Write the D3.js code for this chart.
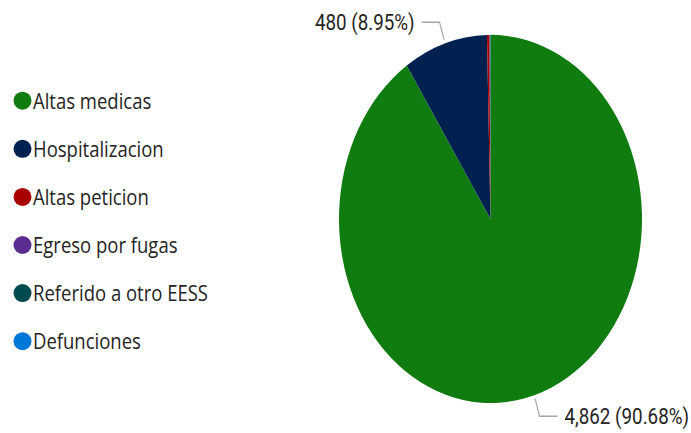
<!DOCTYPE html>
<html>
  <head>
    <script src="https://cdnjs.cloudflare.com/ajax/libs/d3/7.8.5/d3.min.js"></script>
    <style>
      body {
        margin: 0;
        overflow: hidden;
        background: #ffffff;
      }
      .legend text {
        font-family: "Open Sans", "Noto Sans", sans-serif;
        font-size: 18.5px;
        fill: #252423;
      }
      .label {
        font-family: Roboto, "Noto Sans", sans-serif;
        font-size: 18.8px;
        fill: #252423;
      }
    </style>
  </head>
  <body>
    <div id="canvas"></div>
    <script>
      // categorias y valores
      const categories = [
        "Altas medicas",
        "Hospitalizacion",
        "Altas peticion",
        "Egreso por fugas",
        "Referido a otro EESS",
        "Defunciones",
      ];
      const values = [4862, 480, 14, 2, 3, 1];
      const colors = ["#107C10", "#002050", "#A80000", "#5C2D91", "#004B50", "#0078D7"];

      const width = 691;
      const height = 433;
      // la imagen esta estirada verticalmente
      const stretch = 1.215;

      const svg = d3
        .select("#canvas")
        .append("svg")
        .attr("width", width)
        .attr("height", height);

      const g = svg.append("g").attr("transform", `scale(1,${stretch})`);

      // pie
      const cx = 490.5;
      const cy = 180.2;
      const radius = 151.5;
      const total = d3.sum(values);

      const pie = d3.pie().sort(null).value((d) => d);
      const arcs = pie(values);
      const arc = d3.arc().innerRadius(0).outerRadius(radius);

      const pieG = g.append("g").attr("transform", `translate(${cx},${cy})`);

      pieG
        .selectAll("path")
        .data(arcs)
        .enter()
        .append("path")
        .attr("d", arc)
        .attr("fill", (d, i) => colors[i]);

      // etiquetas con lineas guia
      const fmt = d3.format(",");
      const labelled = arcs.filter((d) => d.value / total > 0.05);
      labelled.forEach((d) => {
        const mid = (d.startAngle + d.endAngle) / 2;
        const p0 = [Math.sin(mid) * (radius + 3), -Math.cos(mid) * (radius + 3)];
        const p1 = [Math.sin(mid) * (radius * 1.12), -Math.cos(mid) * (radius * 1.12)];
        const side = Math.sin(mid) < 0 ? -1 : 1;
        const p2 = [p1[0] + side * 18, p1[1]];
        pieG
          .append("polyline")
          .attr("points", [p0, p1, p2].map((p) => p.join(",")).join(" "))
          .attr("fill", "none")
          .attr("stroke", "#a6a6a6")
          .attr("stroke-width", 1.2);
        pieG
          .append("text")
          .attr("class", "label")
          .attr("x", p2[0] + side * 7)
          .attr("y", p2[1])
          .attr("dy", "0.35em")
          .attr("text-anchor", side < 0 ? "end" : "start")
          .text(`${fmt(d.value)} (${((d.value / total) * 100).toFixed(2)}%)`);
      });

      // leyenda
      const legendY = d3.scalePoint().domain(categories).range([82.9, 280.8]);
      const legend = g
        .append("g")
        .attr("class", "legend")
        .selectAll("g")
        .data(categories)
        .enter()
        .append("g")
        .attr("transform", (d) => `translate(0,${legendY(d)})`);

      legend
        .append("ellipse")
        .attr("cx", 22.5)
        .attr("cy", 0)
        .attr("rx", 9)
        .attr("ry", 9 / stretch)
        .attr("fill", (d, i) => colors[i]);

      legend
        .append("text")
        .attr("x", 33)
        .attr("y", 0)
        .attr("dy", "0.36em")
        .text((d) => d);
    </script>
  </body>
</html>
